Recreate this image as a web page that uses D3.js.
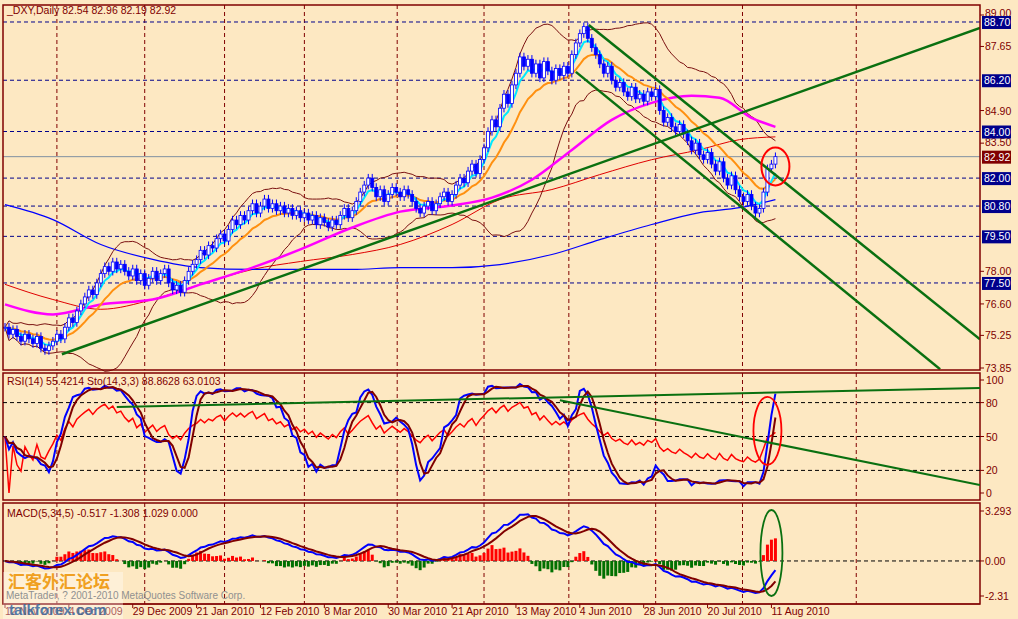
<!DOCTYPE html>
<html><head><meta charset="utf-8">
<script src="https://cdn.jsdelivr.net/npm/d3@7"></script>
<style>body{margin:0;background:#fde8c2}svg{display:block;font-family:"Liberation Sans",Arial,sans-serif}</style>
</head><body><svg id="c" width="1018" height="619"></svg>
<script>
const closes=[75.6,75.3,75.5,75.2,75.0,75.3,75.1,74.9,75.2,74.7,
74.6,74.8,75.0,75.3,75.1,75.6,76.0,75.8,76.3,76.6,
76.9,77.2,77.0,77.5,77.9,78.2,78.0,78.4,78.1,78.3,
78.0,77.8,78.1,77.6,77.9,77.4,77.7,78.0,77.6,77.9,
78.1,77.5,77.2,77.4,77.1,77.6,78.0,78.3,78.5,78.9,
78.7,79.1,79.0,79.4,79.6,79.3,79.8,80.2,80.0,80.4,
80.2,80.6,80.9,80.5,80.8,81.1,80.7,80.9,80.6,80.8,
80.5,80.7,80.4,80.6,80.3,80.5,80.2,80.4,80.0,80.3,
80.1,79.9,80.2,80.0,80.4,80.7,80.3,80.6,81.0,81.4,
81.7,82.0,81.6,81.2,81.5,81.0,81.3,81.6,81.4,81.2,
81.5,81.3,81.0,80.7,80.5,80.8,81.0,80.6,80.9,81.2,
81.4,81.0,81.3,81.7,82.0,81.8,82.3,82.6,82.2,82.8,
83.3,84.0,84.5,84.2,85.0,85.6,85.2,86.0,86.5,87.2,
86.8,87.1,86.5,86.9,86.3,87.0,86.6,86.2,86.7,86.4,
86.8,86.5,87.3,87.8,88.2,88.5,88.0,87.6,87.3,86.9,
86.5,86.8,86.2,85.9,86.1,85.7,85.5,85.9,85.4,85.6,
85.3,85.7,85.5,85.8,84.9,84.4,84.6,84.2,84.0,84.3,
83.9,83.6,83.2,83.5,83.0,82.8,83.1,82.6,82.3,82.7,
82.0,81.7,82.1,81.5,81.2,81.0,81.3,80.8,80.5,80.7,
81.4,82.4,82.6,82.92];
const magentaIdx=[0,12,24,37,49,62,74,87,99,112,122,132,142,152,162,172,179,187,193];
const magentaVal=[76.58,76.15,76.58,76.79,77.44,78.16,78.94,79.88,80.56,80.82,81.16,81.93,83.21,84.50,85.23,85.53,85.45,84.59,84.20];
const blueIdx=[0,12,24,37,49,62,74,87,99,112,124,137,149,162,174,184,193];
const blueVal=[80.86,80.22,79.15,78.51,78.16,78.08,78.08,78.08,78.16,78.16,78.29,78.72,79.36,80.01,80.52,80.73,81.08];
const redIdx=[0,12,24,37,49,62,74,87,99,112,124,137,149,162,174,184,193];
const redVal=[77.44,76.79,76.37,76.79,77.44,78.08,78.42,78.72,79.15,80.01,81.08,81.51,82.15,82.79,83.22,83.65,83.77];
const priceTrend=[[14.25,74.44,244.25,88.44],[146.25,88.57,244.25,75.08],[143,86.56,234.25,73.80]];
const rsiTrend=[[28,76,244.25,93],[139,82,244.25,7]];
const levelLabels=[88.70,86.20,84.00,82.00,80.80,79.50,77.50];
const axisLabels=[89.00,87.65,84.90,83.50,78.00,76.60,75.25,73.85];
const dateLabels=["12 Nov 2009","4 Dec 2009","29 Dec 2009","21 Jan 2010","12 Feb 2010","8 Mar 2010","30 Mar 2010","21 Apr 2010","13 May 2010","4 Jun 2010","28 Jun 2010","20 Jul 2010","11 Aug 2010"];
const dateIdx=[0,16,32,48,64,80,96,112,128,144,160,176,192];
const gridIdx=[13,35,55,75,98.25,120,141.25,163,184.75,213.25];
const lastQuote="82.54 82.96 82.19 82.92";

const svg=d3.select("#c");
const DR="#800000";
const L=3,R=980;
const x=d3.scaleLinear().domain([0,244.25]).range([L+2,R]);
const yP=d3.scaleLinear().domain([73.85,89.0]).range([368,15]);
const yR=d3.scaleLinear().domain([0,100]).range([493,380]);
const yM=d3.scaleLinear().domain([-2.31,3.293]).range([596,511]);
const bars=closes.map((c,i)=>{const o=i?closes[i-1]:c;return{i,o,c,h:Math.max(o,c)+0.18,l:Math.min(o,c)-0.18};});
function ema(a,p){const k=2/(p+1);let r=[],e=a[0];a.forEach((v,i)=>{e=i?v*k+e*(1-k):v;r.push(e)});return r;}
function sma(a,p){return a.map((v,i)=>d3.mean(a.slice(Math.max(0,i-p+1),i+1)));}
const ema5=ema(closes,5), ma13=ema(closes,13);
const bb=closes.map((v,i)=>{const s=closes.slice(Math.max(0,i-19),i+1);const m=d3.mean(s),sd=d3.deviation(s)||0;return[m+2*sd,m-2*sd]});
let ag=0,al=0;const rsi=closes.map((c,i)=>{if(!i)return 50;const d=c-closes[i-1];ag=(ag*13+Math.max(d,0))/14;al=(al*13+Math.max(-d,0))/14;return al===0?100:100-100/(1+ag/al)});
const kRaw=bars.map((b,i)=>{const s=bars.slice(Math.max(0,i-13),i+1);const hh=d3.max(s,d=>d.h),ll=d3.min(s,d=>d.l);return (b.c-ll)/(hh-ll)*100});
const kS=sma(kRaw,3),dS=sma(kS,3);
const e34=ema(closes,34);
const macd=ema(closes,5).map((v,i)=>v-e34[i]);
const sig=sma(macd,5);
const hist=macd.map((v,i)=>v-sig[i]);

const panes=[[5,370],[373,500],[503,604]];
panes.forEach(([t,b])=>svg.append("g").selectAll("line").data(gridIdx).join("line").attr("x1",d=>x(d)).attr("x2",d=>x(d)).attr("y1",t).attr("y2",b).attr("stroke",DR).attr("stroke-dasharray","4,3"));
svg.append("g").selectAll("line").data(levelLabels).join("line").attr("x1",L).attr("x2",R).attr("y1",d=>yP(d)).attr("y2",d=>yP(d)).attr("stroke","#00008b").attr("stroke-dasharray","4,3");
svg.append("line").attr("x1",L).attr("x2",R).attr("y1",yP(82.92)).attr("y2",yP(82.92)).attr("stroke","#8090a0");
const main=svg.append("g");
const line=(xs,ys,yS)=>d3.line().x((d,i)=>x(xs(d,i))).y((d,i)=>yS(ys(d,i)));
function path(g,data,xs,ys,yS,col,w,curve){g.append("path").datum(data).attr("fill","none").attr("stroke",col).attr("stroke-width",w).attr("d",line(xs,ys,yS).curve(curve||d3.curveLinear));}
path(main,redIdx,(d)=>d,(d,i)=>redVal[i],yP,"#e00000",1,d3.curveMonotoneX);
path(main,blueIdx,(d)=>d,(d,i)=>blueVal[i],yP,"#0000ff",1.2,d3.curveMonotoneX);
path(main,bb,(d,i)=>i,d=>d[0],yP,"#7a1010",1);
path(main,bb,(d,i)=>i,d=>d[1],yP,"#7a1010",1);
path(main,magentaIdx,(d)=>d,(d,i)=>magentaVal[i],yP,"#ff00ff",2.5,d3.curveMonotoneX);
path(main,ma13,(d,i)=>i,d=>d,yP,"#ff9010",2);
path(main,ema5,(d,i)=>i,d=>d,yP,"#00e8ff",2);
const cg=main.append("g");
cg.selectAll("line").data(bars).join("line").attr("x1",d=>x(d.i)).attr("x2",d=>x(d.i)).attr("y1",d=>yP(d.h)).attr("y2",d=>yP(d.l)).attr("stroke","#0000ff");
cg.selectAll("rect").data(bars).join("rect").attr("x",d=>x(d.i)-1.5).attr("width",3).attr("y",d=>yP(Math.max(d.o,d.c))).attr("height",d=>Math.max(1,Math.abs(yP(d.o)-yP(d.c)))).attr("fill",d=>d.c>=d.o?"#ffffff":"#0000ff").attr("stroke","#0000ff").attr("stroke-width",0.8);
const clip=(id,t,b)=>{svg.append("clipPath").attr("id",id).append("rect").attr("x",L).attr("y",t).attr("width",R-L).attr("height",b-t);};
clip("cp",5,370);clip("cr",373,500);
svg.append("g").attr("clip-path","url(#cp)").selectAll("line").data(priceTrend).join("line").attr("x1",d=>x(d[0])).attr("y1",d=>yP(d[1])).attr("x2",d=>x(d[2])).attr("y2",d=>yP(d[3])).attr("stroke","#0a7010").attr("stroke-width",2.5);
svg.append("ellipse").attr("cx",x(193)).attr("cy",yP(82.5)).attr("rx",14).attr("ry",19).attr("fill","none").attr("stroke","#ff0000").attr("stroke-width",2);
panes.forEach(([t,b])=>svg.append("rect").attr("x",L).attr("y",t).attr("width",R-L).attr("height",b-t).attr("fill","none").attr("stroke",DR).attr("stroke-width",1.5));
const ax=svg.append("g").attr("font-size",10.5).attr("fill",DR);
axisLabels.forEach(v=>{const dy=v===89?-2:(v===83.5?-1:0);ax.append("line").attr("x1",R).attr("x2",R+4).attr("y1",yP(v)).attr("y2",yP(v)).attr("stroke",DR);ax.append("text").attr("x",R+5).attr("y",yP(v)+4+dy).text(v.toFixed(2));});
levelLabels.forEach(v=>{ax.append("rect").attr("x",R+2).attr("y",yP(v)-6).attr("width",29).attr("height",13).attr("fill","#00008b");ax.append("text").attr("x",R+4).attr("y",yP(v)+4).attr("fill","#fff").text(v.toFixed(2));});
ax.append("rect").attr("x",R+2).attr("y",yP(82.92)-6).attr("width",29).attr("height",13).attr("fill",DR);
ax.append("text").attr("x",R+4).attr("y",yP(82.92)+4).attr("fill","#fff").text("82.92");
svg.append("text").attr("x",7).attr("y",14).attr("font-size",10.5).attr("fill",DR).text("_DXY,Daily  "+lastQuote);
const rg=svg.append("g").attr("clip-path","url(#cr)");
[80,50,20].forEach(v=>rg.append("line").attr("x1",L).attr("x2",R).attr("y1",yR(v)).attr("y2",yR(v)).attr("stroke","#000").attr("stroke-dasharray","4,3"));
path(rg,rsi,(d,i)=>i,d=>d,yR,"#ff0000",1.5);
path(rg,kS,(d,i)=>i,d=>d,yR,"#0000ff",2);
path(rg,dS,(d,i)=>i,d=>d,yR,"#800000",2);
rg.selectAll("line.t").data(rsiTrend).join("line").attr("class","t").attr("x1",d=>x(d[0])).attr("y1",d=>yR(d[1])).attr("x2",d=>x(d[2])).attr("y2",d=>yR(d[3])).attr("stroke","#0a7010").attr("stroke-width",2);
svg.append("ellipse").attr("cx",x(191)).attr("cy",yR(55)).attr("rx",14).attr("ry",34).attr("fill","none").attr("stroke","#ff0000").attr("stroke-width",1.8);
[100,80,50,20,0].forEach(v=>{ax.append("line").attr("x1",R).attr("x2",R+4).attr("y1",yR(v)).attr("y2",yR(v)).attr("stroke",DR);ax.append("text").attr("x",R+6).attr("y",yR(v)+4).text(v);});
svg.append("text").attr("x",7).attr("y",385).attr("font-size",10.5).attr("fill",DR).text("RSI(14) 55.4214  Sto(14,3,3) 88.8628 63.0103");
const mg=svg.append("g");
mg.append("line").attr("x1",L).attr("x2",R).attr("y1",yM(0)).attr("y2",yM(0)).attr("stroke","#000").attr("stroke-dasharray","4,3");
mg.selectAll("rect").data(hist).join("rect").attr("x",(d,i)=>x(i)-1.5).attr("width",3).attr("y",d=>yM(Math.max(0,d*2))).attr("height",d=>Math.abs(yM(0)-yM(d*2))).attr("fill",d=>d>=0?"#ff0000":"#007000");
path(mg,macd,(d,i)=>i,d=>d,yM,"#0000ff",2);
path(mg,sig,(d,i)=>i,d=>d,yM,"#800000",2);
svg.append("ellipse").attr("cx",x(192)).attr("cy",553).attr("rx",11).attr("ry",43).attr("fill","none").attr("stroke","#0a7010").attr("stroke-width",1.8);
[[3.293,"3.293"],[0,"0.00"],[-2.31,"-2.31"]].forEach(([v,t])=>{ax.append("line").attr("x1",R).attr("x2",R+4).attr("y1",yM(v)).attr("y2",yM(v)).attr("stroke",DR);ax.append("text").attr("x",R+5).attr("y",yM(v)+4).text(t);});
svg.append("text").attr("x",7).attr("y",517).attr("font-size",10.5).attr("fill",DR).text("MACD(5,34,5) -0.517 -1.308 1.029 0.000");
svg.append("line").attr("x1",L).attr("x2",R).attr("y1",604).attr("y2",604).attr("stroke",DR);
dateIdx.forEach((d,k)=>{ax.append("line").attr("x1",x(d)).attr("x2",x(d)).attr("y1",604).attr("y2",608).attr("stroke",DR);ax.append("text").attr("x",x(d)).attr("y",615).text(dateLabels[k]);});
svg.append("rect").attr("x",3).attr("y",572).attr("width",120).attr("height",47).attr("fill","#fff").attr("opacity",0.35);
svg.append("text").attr("x",8).attr("y",588).attr("font-size",17).attr("font-weight","bold").attr("fill","#f0a020").attr("font-family","Noto Sans CJK SC").text("汇客外汇论坛");
svg.append("text").attr("x",6).attr("y",599).attr("font-size",10).attr("fill","#909090").text("MetaTrader, ? 2001-2010 MetaQuotes Software Corp.");
svg.append("text").attr("x",9).attr("y",615).attr("font-size",15).attr("font-weight","bold").attr("fill","#3a6aa0").attr("opacity",0.85).text("talkforex.com");
</script></body></html>
